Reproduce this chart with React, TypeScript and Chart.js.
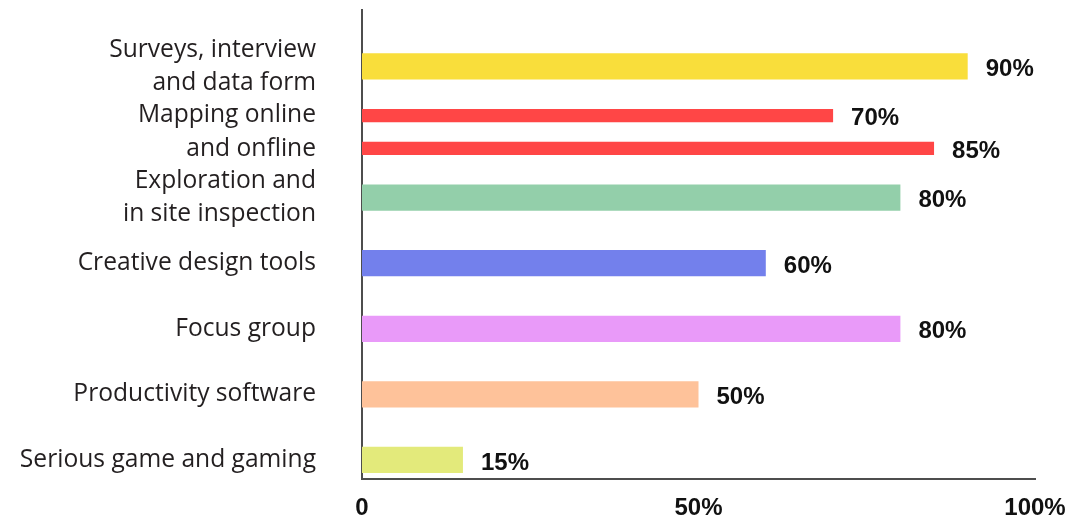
import React, { useEffect, useRef } from "react";
import { Chart, registerables } from "chart.js";

Chart.register(...registerables);

// ---- data ----
const categories: string[][] = [
  ["Surveys, interview", "and data form"],
  ["Mapping online", "and onfline"],
  ["Exploration and", "in site inspection"],
  ["Creative design tools"],
  ["Focus group"],
  ["Productivity software"],
  ["Serious game and gaming"],
];
const mainValues: (number | null)[] = [90, null, 80, 60, 80, 50, 15];
const mappingFirstValues: (number | null)[] = [null, 70, null, null, null, null, null];
const mappingSecondValues: (number | null)[] = [null, 85, null, null, null, null, null];
const barColors = ["#F9DE3B", "#FF4646", "#93CFAA", "#7380EC", "#E99AF9", "#FEC29A", "#E3EA7B"];
const xTickValues = [0, 50, 100];
const xTickLabels = ["0", "50%", "100%"];

const toPoints = (vals: (number | null)[]) => vals.map((v, i) => ({ x: v, y: i }));

const valueLabels = {
  id: "valueLabels",
  afterDatasetsDraw(chart: any) {
    const ctx = chart.ctx;
    ctx.save();
    ctx.font = 'bold 24px "Liberation Sans", Arial, sans-serif';
    ctx.fillStyle = "#111111";
    ctx.textAlign = "left";
    ctx.textBaseline = "middle";
    chart.data.datasets.forEach((ds: any, di: number) => {
      const meta = chart.getDatasetMeta(di);
      meta.data.forEach((el: any, i: number) => {
        const v = ds.data[i].x;
        if (v == null) return;
        ctx.fillText(v + "%", el.x + 18, el.y + 3);
      });
    });
    ctx.restore();
  },
};

const zeroPadding = (s: any) => {
  s.paddingTop = 0;
  s.paddingBottom = 0;
  s.paddingLeft = 0;
  s.paddingRight = 0;
};

export default function App() {
  const canvasRef = useRef<HTMLCanvasElement | null>(null);

  useEffect(() => {
    document.body.style.margin = "0";
    document.body.style.background = "#ffffff";
    const canvas = canvasRef.current;
    if (!canvas) return;
    const border = { display: true, color: "#4d4d4d", width: 2 };
    const chart = new Chart(canvas, {
      type: "bar",
      data: {
        datasets: [
          {
            data: toPoints(mainValues) as any,
            backgroundColor: barColors,
          },
          {
            data: toPoints(mappingFirstValues) as any,
            backgroundColor: barColors[1],
          },
          {
            data: toPoints(mappingSecondValues) as any,
            backgroundColor: barColors[1],
          },
        ],
      },
      options: {
        indexAxis: "y",
        responsive: false,
        animation: false,
        layout: { padding: { top: 10, right: 33, left: 0, bottom: 0 } },
        datasets: {
          bar: { categoryPercentage: 1, barPercentage: 0.4, skipNull: true },
        } as any,
        plugins: {
          legend: { display: false },
          tooltip: { enabled: false },
        },
        scales: {
          x: {
            type: "linear",
            min: 0,
            max: 100,
            grid: { display: false, drawTicks: false },
            border,
            ticks: {
              stepSize: 50,
              padding: 15,
              color: "#111111",
              font: { family: '"Liberation Sans", Arial, sans-serif', size: 24, weight: "bold" },
              callback: (v: any) => {
                const idx = xTickValues.indexOf(Number(v));
                return idx >= 0 ? xTickLabels[idx] : "";
              },
            },
            afterFit: (s: any) => {
              s.height = 39;
              zeroPadding(s);
            },
          },
          y: {
            type: "linear",
            reverse: true,
            offset: false,
            min: -0.86,
            max: 6.29,
            grid: { display: false, drawTicks: false, offset: false },
            border,
            ticks: {
              padding: 46,
              autoSkip: false,
              color: "#231f20",
              font: { family: '"Open Sans", sans-serif', size: 24.6, lineHeight: 1.35 },
              callback: (v: any) => categories[Number(v)] ?? "",
            },
            afterBuildTicks: (s: any) => {
              s.ticks = categories.map((_, i) => ({ value: i }));
            },
            afterFit: (s: any) => {
              s.width = 362;
              zeroPadding(s);
            },
          },
        },
      } as any,
      plugins: [valueLabels],
    });
    return () => chart.destroy();
  }, []);

  return (
    <div style={{ width: 1068, height: 518, background: "#ffffff" }}>
      <canvas ref={canvasRef} width={1068} height={518} />
    </div>
  );
}
